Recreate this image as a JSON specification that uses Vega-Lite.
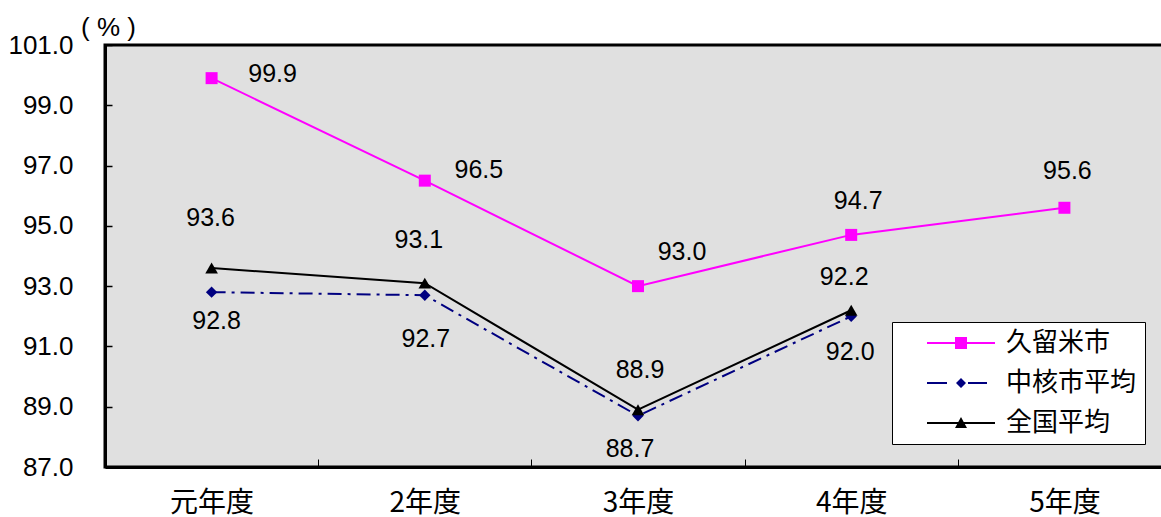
{
  "$schema": "https://vega.github.io/schema/vega-lite/v6.json",
  "autosize": "none",
  "width": 1066,
  "height": 422,
  "padding": {"left": 105, "top": 45, "right": 0, "bottom": 50},
  "background": "#ffffff",
  "config": {
    "view": {"fill": "#E0E0E0", "stroke": "#000000", "strokeWidth": 3},
    "font": "Liberation Sans",
    "axis": {"grid": false, "tickColor": "#000000", "labelColor": "#000000", "domainColor": "#000000", "domainWidth": 3},
    "legend": {
      "fillColor": "#ffffff", "strokeColor": "#000000", "padding": 8,
      "symbolSize": 400, "symbolStrokeWidth": 0, "symbolOffset": 48, "symbolOpacity": 1,
      "labelOffset": 32, "labelFont": "Noto Sans CJK JP", "labelFontSize": 26, "labelColor": "#000000",
      "rowPadding": 14, "labelLimit": 300
    }
  },
  "data": {
    "values": [
      {"year": "元年度", "series": "久留米市", "value": 99.9},
      {"year": "2年度", "series": "久留米市", "value": 96.5},
      {"year": "3年度", "series": "久留米市", "value": 93.0},
      {"year": "4年度", "series": "久留米市", "value": 94.7},
      {"year": "5年度", "series": "久留米市", "value": 95.6},
      {"year": "元年度", "series": "中核市平均", "value": 92.8},
      {"year": "2年度", "series": "中核市平均", "value": 92.7},
      {"year": "3年度", "series": "中核市平均", "value": 88.7},
      {"year": "4年度", "series": "中核市平均", "value": 92.0},
      {"year": "元年度", "series": "全国平均", "value": 93.6},
      {"year": "2年度", "series": "全国平均", "value": 93.1},
      {"year": "3年度", "series": "全国平均", "value": 88.9},
      {"year": "4年度", "series": "全国平均", "value": 92.2}
    ]
  },
  "encoding": {
    "x": {
      "field": "year", "type": "nominal",
      "sort": ["元年度", "2年度", "3年度", "4年度", "5年度"],
      "scale": {"paddingInner": 0, "paddingOuter": 0},
      "axis": {
        "title": null, "labelAngle": 0,
        "labelFont": "Noto Sans CJK JP", "labelFontSize": 28, "labelPadding": 30,
        "tickBand": "extent", "tickSize": -8, "tickWidth": 1
      }
    },
    "y": {
      "field": "value", "type": "quantitative",
      "scale": {"domain": [87, 101], "nice": false, "zero": false},
      "axis": {
        "title": "( % )", "titleAngle": 0, "titleAlign": "center", "titleBaseline": "middle",
        "titleX": 3, "titleY": -18, "titleFontSize": 26, "titleFontWeight": "normal",
        "values": [87, 89, 91, 93, 95, 97, 99, 101], "format": ".1f",
        "labelFontSize": 26, "labelPadding": 39,
        "tickSize": -7, "tickWidth": 1.5
      }
    }
  },
  "layer": [
    {
      "transform": [{"filter": "datum.series == '中核市平均'"}],
      "mark": {"type": "line", "stroke": "#000080", "strokeWidth": 2, "strokeDash": [14, 6, 3, 6]},
      "encoding": {}
    },
    {
      "transform": [{"filter": "datum.series == '全国平均'"}],
      "mark": {"type": "line", "stroke": "#000000", "strokeWidth": 2},
      "encoding": {}
    },
    {
      "transform": [{"filter": "datum.series == '久留米市'"}],
      "mark": {"type": "line", "stroke": "#FF00FF", "strokeWidth": 2},
      "encoding": {}
    },
    {
      "transform": [{"filter": "datum.series == '中核市平均'"}],
      "mark": {"type": "point", "shape": "diamond", "filled": true, "fill": "#000080", "opacity": 1, "size": 130},
      "encoding": {}
    },
    {
      "transform": [{"filter": "datum.series == '全国平均'"}],
      "mark": {"type": "point", "shape": "triangle-up", "filled": true, "fill": "#000000", "opacity": 1, "size": 160},
      "encoding": {}
    },
    {
      "transform": [{"filter": "datum.series == '久留米市'"}],
      "mark": {"type": "point", "shape": "square", "filled": true, "fill": "#FF00FF", "opacity": 1, "size": 144},
      "encoding": {}
    },
    {
      "transform": [{"filter": "false"}],
      "mark": {"type": "point", "filled": true, "opacity": 1},
      "encoding": {
        "color": {"field": "series", "type": "nominal",
          "scale": {"domain": ["久留米市", "中核市平均", "全国平均"], "range": ["#FF00FF", "#000080", "#000000"]},
          "legend": {"title": null, "orient": "none", "legendX": 787, "legendY": 277}},
        "shape": {"field": "series", "type": "nominal",
          "scale": {"domain": ["久留米市", "中核市平均", "全国平均"], "range": [
            "M-3.4,-0.1H3.4V0.1H-3.4Z M-0.6,-0.6H0.6V0.6H-0.6Z",
            "M-3.4,-0.1H-1.4V0.1H-3.4Z M0.7,-0.1H2.6V0.1H0.7Z M0,-0.5L0.5,0L0,0.5L-0.5,0Z",
            "M-3.4,-0.1H3.4V0.1H-3.4Z M0,-0.6L0.6,0.5H-0.6Z"
          ]},
          "legend": {"title": null, "orient": "none", "legendX": 787, "legendY": 277}}
      }
    },
    {"transform": [{"filter": "datum.series == '久留米市' && datum.year == '元年度'"}], "mark": {"type": "text", "fontSize": 25, "dx": 61, "dy": -4}, "encoding": {"text": {"field": "value", "format": ".1f"}}},
    {"transform": [{"filter": "datum.series == '久留米市' && datum.year == '2年度'"}], "mark": {"type": "text", "fontSize": 25, "dx": 54, "dy": -11}, "encoding": {"text": {"field": "value", "format": ".1f"}}},
    {"transform": [{"filter": "datum.series == '久留米市' && datum.year == '3年度'"}], "mark": {"type": "text", "fontSize": 25, "dx": 44, "dy": -34}, "encoding": {"text": {"field": "value", "format": ".1f"}}},
    {"transform": [{"filter": "datum.series == '久留米市' && datum.year == '4年度'"}], "mark": {"type": "text", "fontSize": 25, "dx": 7, "dy": -34}, "encoding": {"text": {"field": "value", "format": ".1f"}}},
    {"transform": [{"filter": "datum.series == '久留米市' && datum.year == '5年度'"}], "mark": {"type": "text", "fontSize": 25, "dx": 3, "dy": -37}, "encoding": {"text": {"field": "value", "format": ".1f"}}},
    {"transform": [{"filter": "datum.series == '全国平均' && datum.year == '元年度'"}], "mark": {"type": "text", "fontSize": 25, "dx": -1, "dy": -50}, "encoding": {"text": {"field": "value", "format": ".1f"}}},
    {"transform": [{"filter": "datum.series == '全国平均' && datum.year == '2年度'"}], "mark": {"type": "text", "fontSize": 25, "dx": -6, "dy": -43}, "encoding": {"text": {"field": "value", "format": ".1f"}}},
    {"transform": [{"filter": "datum.series == '全国平均' && datum.year == '3年度'"}], "mark": {"type": "text", "fontSize": 25, "dx": 2, "dy": -40}, "encoding": {"text": {"field": "value", "format": ".1f"}}},
    {"transform": [{"filter": "datum.series == '全国平均' && datum.year == '4年度'"}], "mark": {"type": "text", "fontSize": 25, "dx": -7, "dy": -33}, "encoding": {"text": {"field": "value", "format": ".1f"}}},
    {"transform": [{"filter": "datum.series == '中核市平均' && datum.year == '元年度'"}], "mark": {"type": "text", "fontSize": 25, "dx": 5, "dy": 29}, "encoding": {"text": {"field": "value", "format": ".1f"}}},
    {"transform": [{"filter": "datum.series == '中核市平均' && datum.year == '2年度'"}], "mark": {"type": "text", "fontSize": 25, "dx": 1, "dy": 44}, "encoding": {"text": {"field": "value", "format": ".1f"}}},
    {"transform": [{"filter": "datum.series == '中核市平均' && datum.year == '3年度'"}], "mark": {"type": "text", "fontSize": 25, "dx": -8, "dy": 33}, "encoding": {"text": {"field": "value", "format": ".1f"}}},
    {"transform": [{"filter": "datum.series == '中核市平均' && datum.year == '4年度'"}], "mark": {"type": "text", "fontSize": 25, "dx": -1, "dy": 36}, "encoding": {"text": {"field": "value", "format": ".1f"}}}
  ]
}
